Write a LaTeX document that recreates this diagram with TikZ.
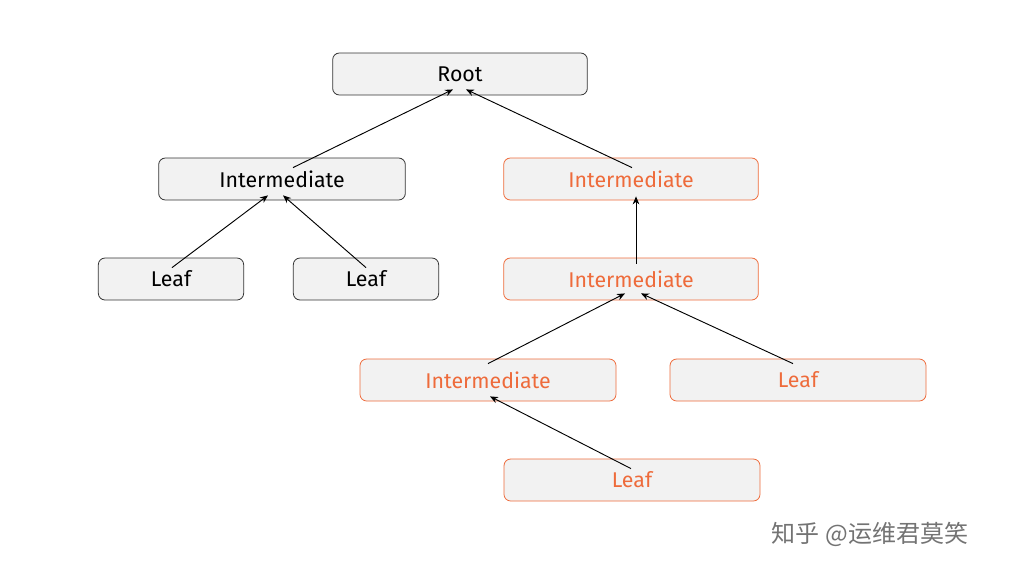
\documentclass[tikz,border=0pt]{standalone}
\usepackage{fontspec}
\setmainfont{Fira Sans}
\newfontfamily\cjk{Noto Sans CJK SC}
\usetikzlibrary{calc,arrows.meta}
\definecolor{org}{HTML}{EE6B3B}
\definecolor{boxfill}{HTML}{F2F2F2}
\begin{document}
\begin{tikzpicture}[x=0.75pt,y=-0.75pt,
  box/.style={draw=black!80,fill=boxfill,rounded corners=5pt,minimum height=31.5pt,font=\fontsize{16}{18}\selectfont,line width=0.6pt},
  obox/.style={box,draw=org,text=org},
  arr/.style={-{Stealth[length=6pt,width=5pt]},line width=0.7pt}]
\useasboundingbox (0,0) rectangle (1024,576);
\node[box,minimum width=191pt] (root) at (460,74) {Root};
\node[box,minimum width=185pt] (il) at (282,179) {Intermediate};
\node[obox,minimum width=191pt] (ir1) at (631,179) {Intermediate};
\node[box,minimum width=109pt] (l1) at (171,279) {Leaf};
\node[box,minimum width=109pt] (l2) at (366,279) {Leaf};
\node[obox,minimum width=191pt] (ir2) at (631,279) {Intermediate};
\node[obox,minimum width=192pt] (ir3) at (488,380) {Intermediate};
\node[obox,minimum width=192pt] (lr) at (798,380) {Leaf};
\node[obox,minimum width=192pt] (lb) at (632,480) {Leaf};
\node[text=black!55,font=\cjk\fontsize{18}{20}\selectfont] (wm) at (870,534) {知乎 @运维君莫笑};
\draw[arr] ($(il.north)+(11,10)$) -- ($(root.south)+(-7,-6)$);
\draw[arr] ($(ir1.north)+(1,10)$) -- ($(root.south)+(6,-6)$);
\draw[arr] ($(l1.north)+(1,10)$) -- ($(il.south)+(-14,-5)$);
\draw[arr] ($(l2.north)+(0,10)$) -- ($(il.south)+(1,-5)$);
\draw[arr] ($(ir2.north)+(5,6)$) -- ($(ir1.south)+(5,-4)$);
\draw[arr] ($(ir3.north)+(0,5)$) -- ($(ir2.south)+(-6,-7)$);
\draw[arr] ($(lr.north)+(-5,5)$) -- ($(ir2.south)+(10,-7)$);
\draw[arr] ($(lb.north)+(-1,10)$) -- ($(ir3.south)+(2,-5)$);
\end{tikzpicture}
\end{document}
